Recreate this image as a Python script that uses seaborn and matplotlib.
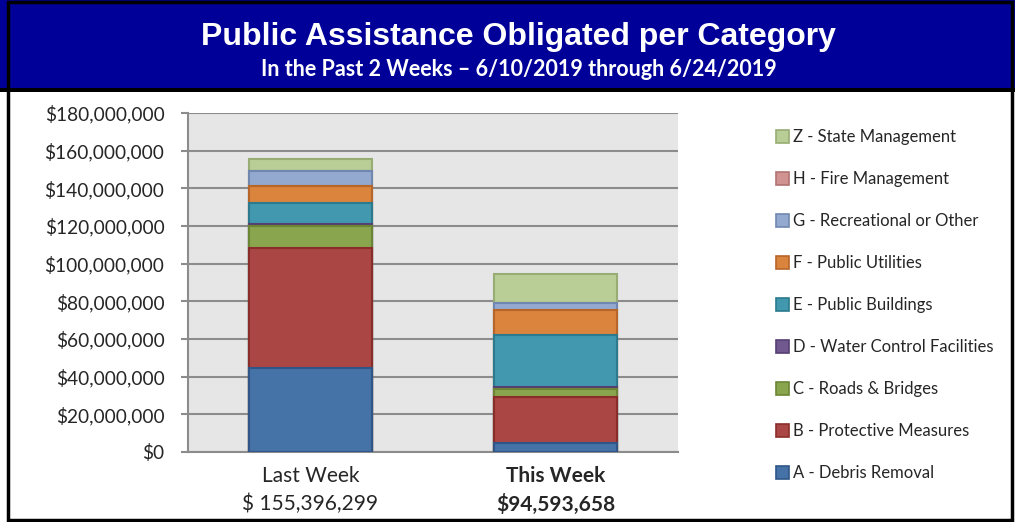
import pandas as pd
import numpy as np
import matplotlib
matplotlib.use("Agg")
import matplotlib.pyplot as plt
import seaborn as sns
from matplotlib.patches import Patch, Rectangle

# Données (en millions de dollars)
weeks = ["Last Week", "This Week"]
week_totals = ["$ 155,396,299", "$94,593,658"]
categories = ["A - Debris Removal", "B - Protective Measures", "C - Roads & Bridges",
              "D - Water Control Facilities", "E - Public Buildings", "F - Public Utilities",
              "G - Recreational or Other", "H - Fire Management", "Z - State Management"]
last_week = [44.7, 63.8, 11.7, 0.9, 11.0, 8.9, 8.3, 0.05, 6.05]
this_week = [5.0, 24.3, 3.9, 1.4, 27.5, 13.3, 3.5, 0.0, 15.69]
colors = ["#4572A7", "#AA4643", "#89A54E", "#71588F", "#4198AF",
          "#DB843D", "#93A9CF", "#D19392", "#B9CD96"]
edges = ["#2F5686", "#8A2D2A", "#6B8535", "#563F72", "#2C7A8E",
         "#B8652A", "#7088B0", "#B07372", "#97AD73"]
yticks = [0, 20, 40, 60, 80, 100, 120, 140, 160, 180]

df = pd.DataFrame({"week": np.repeat(weeks, len(categories)),
                   "category": categories * 2,
                   "value": last_week + this_week})
df["cumul"] = df.groupby("week")["value"].cumsum()

sns.set_style("white")
plt.rcParams["font.family"] = ["Lato", "DejaVu Sans"]

fig = plt.figure(figsize=(10.15, 5.22), dpi=100)
ax = fig.add_axes([0.1852, 0.1341, 0.4828, 0.6494])
ax.set_facecolor("#E6E6E6")

# Barres empilées : on trace les cumuls du haut vers le bas
for i in range(len(categories) - 1, -1, -1):
    sub = df[df["category"] == categories[i]]
    sns.barplot(data=sub, x="week", y="cumul", order=weeks, color=colors[i],
                edgecolor=edges[i], linewidth=1.5, width=0.5, saturation=1,
                ax=ax, zorder=3)

ax.set_xlim(-0.5, 1.5)
ax.set_ylim(0, 180)
ax.set_yticks(yticks)
ax.set_yticklabels([f"${v * 1000000:,.0f}" for v in yticks], fontsize=13.8)
ax.yaxis.grid(True, color="#8C8C8C", linewidth=1.5, zorder=0)
ax.set_axisbelow(True)
ax.tick_params(axis="y", direction="out", length=5, width=1.5, color="#8C8C8C", pad=12, left=True)
ax.tick_params(axis="x", length=0, pad=10)
ax.set_xticks([0, 1])
ax.set_xticklabels([f"{w}\n{t}" for w, t in zip(weeks, week_totals)], fontsize=15, linespacing=1.45)
ax.get_xticklabels()[1].set_fontweight("bold")
ax.set_xlabel("")
ax.set_ylabel("")
for s in ["top", "right"]:
    ax.spines[s].set_visible(False)
ax.spines["left"].set_color("#8C8C8C")
ax.spines["left"].set_linewidth(1.5)
ax.spines["bottom"].set_color("#8C8C8C")
ax.spines["bottom"].set_linewidth(1.5)

# Légende
handles = [Patch(facecolor=colors[i], edgecolor=edges[i], linewidth=1.2, label=categories[i])
           for i in range(len(categories) - 1, -1, -1)]
fig.legend(handles=handles, loc="upper left", bbox_to_anchor=(0.758, 0.765), frameon=False,
           fontsize=12, labelspacing=1.56, handlelength=0.75, handleheight=0.75,
           handletextpad=0.25, borderaxespad=0)

# Bandeau titre
fig.patches.append(Rectangle((0, 0.831), 1, 0.169, transform=fig.transFigure,
                             facecolor="#000099", edgecolor="none", zorder=0))
fig.patches.append(Rectangle((0, 0.824), 1, 0.008, transform=fig.transFigure,
                             facecolor="black", edgecolor="none", zorder=1))
fig.patches.append(Rectangle((0.008, 0.004), 0.989, 0.992, transform=fig.transFigure,
                             facecolor="none", edgecolor="black", linewidth=2.5, zorder=2))
fig.text(0.511, 0.929, "Public Assistance Obligated per Category", color="white",
         fontsize=23, fontweight="bold", ha="center", va="center", family="Liberation Sans")
fig.text(0.511, 0.867, "In the Past 2 Weeks \u2013 6/10/2019 through 6/24/2019", color="white",
         fontsize=15.5, fontweight="bold", ha="center", va="center")

fig.savefig("out.png", dpi=100)
